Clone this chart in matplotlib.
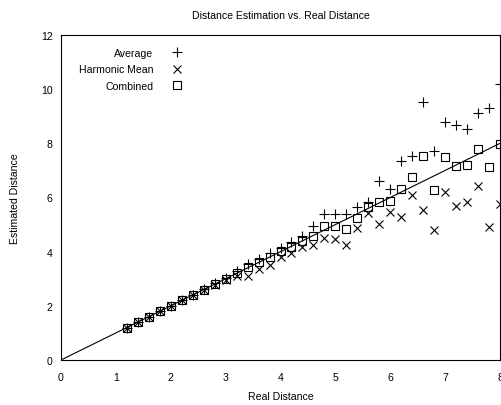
import numpy as np
import matplotlib
matplotlib.use("Agg")
import matplotlib.pyplot as plt

plt.rcParams["font.family"] = ["Liberation Sans", "DejaVu Sans"]
plt.rcParams["font.size"] = 7.6

# real distance of each sample
real = [1.2, 1.4, 1.6, 1.8, 2.0, 2.2, 2.4, 2.6, 2.8, 3.0, 3.2, 3.4,
        3.6, 3.8, 4.0, 4.2, 4.4, 4.6, 4.8, 5.0, 5.2, 5.4, 5.6, 5.8,
        6.0, 6.2, 6.4, 6.6, 6.8, 7.0, 7.2, 7.4, 7.6, 7.8, 8.0]

average = [1.2, 1.4, 1.6, 1.8, 2.0, 2.2, 2.4, 2.62, 2.84, 3.04, 3.27, 3.54,
           3.73, 3.95, 4.14, 4.35, 4.57, 4.96, 5.38, 5.38, 5.38, 5.64, 5.85, 6.6,
           6.31, 7.34, 7.52, 9.52, 7.72, 8.8, 8.68, 8.53, 9.12, 9.29, 10.19]

harmonic = [1.2, 1.4, 1.6, 1.8, 2.0, 2.2, 2.4, 2.58, 2.76, 2.95, 3.12, 3.12,
            3.35, 3.5, 3.8, 3.95, 4.16, 4.25, 4.5, 4.47, 4.26, 4.87, 5.42, 5.02,
            5.45, 5.27, 6.09, 5.54, 4.81, 6.19, 5.68, 5.85, 6.44, 4.92, 5.76]

combined = [1.2, 1.4, 1.6, 1.8, 2.0, 2.2, 2.4, 2.6, 2.8, 3.0, 3.2, 3.42,
            3.61, 3.81, 4.04, 4.16, 4.41, 4.59, 4.94, 4.94, 4.84, 5.24, 5.64, 5.82,
            5.86, 6.31, 6.75, 7.52, 6.26, 7.49, 7.18, 7.2, 7.79, 7.12, 7.98]

ideal_x = [0, 8]
ideal_y = [0, 8]

fig = plt.figure(figsize=(5.01, 4.06), dpi=100)
ax = fig.add_axes([61 / 501, 45 / 406, 439 / 501, 325 / 406])

ax.plot(ideal_x, ideal_y, color="black", linewidth=0.8)
ax.plot(real, average, linestyle="none", marker="+", markersize=6.5,
        markeredgewidth=0.8, color="black", label="Average")
ax.plot(real, harmonic, linestyle="none", marker="x", markersize=5.5,
        markeredgewidth=0.8, color="black", label="Harmonic Mean")
ax.plot(real, combined, linestyle="none", marker="s", markersize=5.5,
        markeredgewidth=0.8, markerfacecolor="none", markeredgecolor="black",
        label="Combined")

ax.set_xlim(0, 8)
ax.set_ylim(0, 12)
ax.set_xticks(range(0, 9))
ax.set_yticks(range(0, 13, 2))
ax.tick_params(length=0, labelsize=7.6)
ax.tick_params(axis="x", pad=8.5)
ax.tick_params(axis="y", pad=6)
for s in ax.spines.values():
    s.set_linewidth(0.8)

ax.set_title("Distance Estimation vs. Real Distance", fontsize=7.6, pad=12)
ax.set_xlabel("Real Distance", fontsize=7.6, labelpad=6.5)
ax.set_ylabel("Estimated Distance", fontsize=7.6, labelpad=15)

# gnuplot-like key: label on the left, symbol on the right
leg = ax.legend(loc="upper right", bbox_to_anchor=(0.289, 0.976),
                markerfirst=False, frameon=False, borderpad=0,
                handlelength=1.0, handletextpad=1.8, labelspacing=0.6,
                fontsize=7.6)

fig.savefig("out.png", dpi=100)
